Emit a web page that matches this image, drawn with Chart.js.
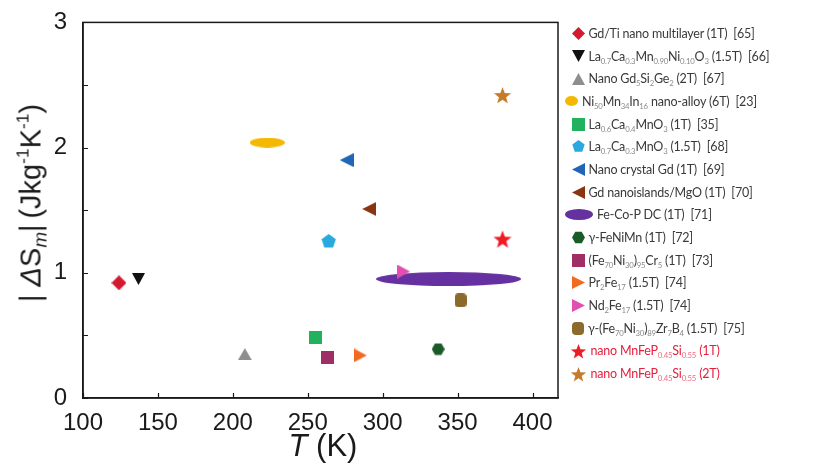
<!DOCTYPE html>
<html>
<head>
<meta charset="utf-8">
<script src="https://cdn.jsdelivr.net/npm/chart.js@4.4.1/dist/chart.umd.min.js"></script>
<style>
  html, body { margin: 0; padding: 0; background: #fff; }
  #wrap { position: relative; width: 820px; height: 473px; overflow: hidden; }
  #chart { position: absolute; left: 0; top: 0; }
  .axis-title { position: absolute; font-family: "Liberation Sans", Arial, sans-serif; color: #1a1a1a; white-space: nowrap; }
  #ytitle { left: 31px; top: 203px; font-size: 29px; transform: translate(-50%, -50%) rotate(-90deg); }
  #xtitle { left: 323px; top: 446px; font-size: 31px; transform: translate(-50%, -50%); }
  .axis-title sub { font-size: 0.65em; vertical-align: -0.3em; line-height: 0; }
  .axis-title sup { font-size: 0.6em; vertical-align: 0.7em; line-height: 0; }
  #legend { position: absolute; left: 563px; top: 22px; margin: 0; padding: 0; list-style: none;
    font-family: Lato, "Open Sans", sans-serif; font-size: 12.5px; color: #3a3a3a; letter-spacing: -0.2px; }
  #legend li { height: 22.7px; display: flex; align-items: center; white-space: nowrap; }
  #legend li canvas { flex: none; margin-right: 4px; }
  #legend sub { font-size: 0.62em; vertical-align: -0.45em; line-height: 0; color: #8a8a8a; }
  #legend li.red { color: #e5203f; }
  #legend li.red sub { color: #ee6b80; }
</style>
</head>
<body>
<div id="wrap">
  <canvas id="chart" width="820" height="473"></canvas>
  <div id="ytitle" class="axis-title">|&nbsp;<i>Δ</i>S<sub><i>m</i></sub>|&thinsp;(Jkg<sup>-1</sup>K<sup>-1</sup>)</div>
  <div id="xtitle" class="axis-title"><i>T</i> (K)</div>
  <ul id="legend"></ul>
</div>
<script>
// materials (legend order), with the field used
const materials = [
  'Gd/Ti nano multilayer (1T)&nbsp; [65]',
  'La<sub>0.7</sub>Ca<sub>0.3</sub>Mn<sub>0.90</sub>Ni<sub>0.10</sub>O<sub>3</sub> (1.5T)&nbsp; [66]',
  'Nano Gd<sub>5</sub>Si<sub>2</sub>Ge<sub>2</sub> (2T)&nbsp; [67]',
  'Ni<sub>50</sub>Mn<sub>34</sub>In<sub>16</sub> nano-alloy (6T)&nbsp; [23]',
  'La<sub>0.6</sub>Ca<sub>0.4</sub>MnO<sub>3</sub> (1T)&nbsp; [35]',
  'La<sub>0.7</sub>Ca<sub>0.3</sub>MnO<sub>3</sub> (1.5T)&nbsp; [68]',
  'Nano crystal Gd (1T)&nbsp; [69]',
  'Gd nanoislands/MgO (1T)&nbsp; [70]',
  'Fe-Co-P DC (1T)&nbsp; [71]',
  'γ-FeNiMn (1T)&nbsp; [72]',
  '(Fe<sub>70</sub>Ni<sub>30</sub>)<sub>95</sub>Cr<sub>5</sub> (1T)&nbsp; [73]',
  'Pr<sub>2</sub>Fe<sub>17</sub> (1.5T)&nbsp; [74]',
  'Nd<sub>2</sub>Fe<sub>17</sub> (1.5T)&nbsp; [74]',
  'γ-(Fe<sub>70</sub>Ni<sub>30</sub>)<sub>89</sub>Zr<sub>7</sub>B<sub>4</sub> (1.5T)&nbsp; [75]',
  'nano MnFeP<sub>0.45</sub>Si<sub>0.55</sub> (1T)',
  'nano MnFeP<sub>0.45</sub>Si<sub>0.55</sub> (2T)',
];

// Curie / transition temperature (K)
const temperatureK = [124, 137, 208, 223, 255, 264, 276, 291, 344, 337, 263, 285, 314, 352, 380, 380];

// |ΔSm| (J kg-1 K-1)
const deltaSm = [0.92, 0.95, 0.35, 2.04, 0.48, 1.25, 1.90, 1.51, 0.95, 0.39, 0.32, 0.34, 1.01, 0.78, 1.27, 2.42];

const xTicks = [100, 150, 200, 250, 300, 350, 400];
const yTicks = [0, 1, 2, 3];

// marker looks: shape, colour, width, height
const markerStyles = [
  ['diamond', '#d41a2e', 15, 15],
  ['triDown', '#111111', 13, 12],
  ['triUp', '#8e8e8e', 14, 12],
  ['ellipse', '#f5b800', 35, 10],
  ['square', '#22b15c', 13, 13],
  ['pentagon', '#2aa9e0', 15, 15],
  ['triLeft', '#1f67b6', 14, 14],
  ['triLeft', '#8a3512', 14, 14],
  ['ellipse', '#6530a0', 145, 14],
  ['hexagon', '#1a5b28', 13, 13],
  ['square', '#a02e66', 13, 13],
  ['triRight', '#f26a1f', 13, 14],
  ['triRight', '#e24fb0', 13, 14],
  ['roundrect', '#8c6a2c', 12, 14],
  ['star', '#ee1c25', 20, 19],
  ['star', '#c67a2c', 19, 18],
];
// the wide Fe-Co-P ellipse is drawn smaller in the legend
const legendSizes = { 8: [28, 11] };

function makeMarker(shape, color, w, h) {
  const c = document.createElement('canvas');
  c.width = w;
  c.height = h;
  const g = c.getContext('2d');
  g.fillStyle = color;
  g.beginPath();
  const cx = w / 2, cy = h / 2;
  const poly = (pts) => { pts.forEach(([x, y], i) => (i ? g.lineTo(x, y) : g.moveTo(x, y))); g.closePath(); };
  const regular = (n, r, rot) => {
    const pts = [];
    for (let i = 0; i < n; i++) {
      const a = rot + (i * 2 * Math.PI) / n;
      pts.push([cx + r * Math.cos(a), cy + r * Math.sin(a)]);
    }
    poly(pts);
  };
  switch (shape) {
    case 'diamond': poly([[cx, 0], [w, cy], [cx, h], [0, cy]]); break;
    case 'triUp': poly([[cx, 0], [w, h], [0, h]]); break;
    case 'triDown': poly([[0, 0], [w, 0], [cx, h]]); break;
    case 'triLeft': poly([[0, cy], [w, 0], [w, h]]); break;
    case 'triRight': poly([[0, 0], [w, cy], [0, h]]); break;
    case 'square': g.rect(0, 0, w, h); break;
    case 'pentagon': regular(5, w / 2, -Math.PI / 2); break;
    case 'hexagon': regular(6, w / 2, 0); break;
    case 'roundrect': g.roundRect(0, 0, w, h, 4); break;
    case 'ellipse': g.ellipse(cx, cy, w / 2, h / 2, 0, 0, Math.PI * 2); break;
    case 'star': {
      const pts = [];
      const R = Math.min(w, h) / 2, r = R * 0.42;
      for (let i = 0; i < 10; i++) {
        const a = -Math.PI / 2 + (i * Math.PI) / 5;
        const rr = i % 2 ? r : R;
        pts.push([cx + rr * Math.cos(a), cy + 1 + rr * Math.sin(a)]);
      }
      poly(pts);
      break;
    }
  }
  g.fill();
  return c;
}

const datasets = materials.map((name, i) => {
  const [shape, color, w, h] = markerStyles[i];
  return {
    label: name,
    data: [{ x: temperatureK[i], y: deltaSm[i] }],
    pointStyle: makeMarker(shape, color, w, h),
    pointRadius: 6,
    order: shape === 'ellipse' && w > 100 ? 1 : 0,
  };
});

// inward ticks and the closed frame
const frameTicks = {
  id: 'frameTicks',
  beforeDatasetsDraw(chart) {
    const { ctx, chartArea: a, scales } = chart;
    ctx.save();
    ctx.strokeStyle = '#1a1a1a';
    ctx.lineWidth = 1.2;
    ctx.beginPath();
    scales.y.ticks.forEach((t) => {
      const py = Math.round(scales.y.getPixelForValue(t.value)) + 0.5;
      ctx.moveTo(a.left, py);
      ctx.lineTo(a.left + 5, py);
    });
    scales.x.ticks.forEach((t) => {
      const px = Math.round(scales.x.getPixelForValue(t.value)) + 0.5;
      ctx.moveTo(px, a.bottom);
      ctx.lineTo(px, a.bottom - 5);
    });
    ctx.stroke();
    ctx.lineWidth = 1.5;
    ctx.strokeRect(a.left, a.top, a.right - a.left, a.bottom - a.top);
    ctx.restore();
  },
};

const tickFont = { family: '"Liberation Sans", Arial, sans-serif', size: 24 };

new Chart(document.getElementById('chart'), {
  type: 'scatter',
  data: { datasets },
  options: {
    responsive: false,
    animation: false,
    layout: { padding: { left: 0, top: 17, right: 262, bottom: 0 } },
    plugins: { legend: { display: false }, tooltip: { enabled: false } },
    scales: {
      x: {
        type: 'linear',
        min: 100,
        max: 417,
        afterFit: (s) => { s.height = 75; },
        afterBuildTicks: (s) => { s.ticks = xTicks.map((v) => ({ value: v })); },
        ticks: { font: tickFont, color: '#1a1a1a', padding: 3, maxRotation: 0 },
        grid: { display: false },
        border: { color: '#1a1a1a', width: 1.5 },
      },
      y: {
        min: 0,
        max: 3,
        afterFit: (s) => { s.width = 83; },
        ticks: {
          stepSize: 0.5,
          font: tickFont,
          color: '#1a1a1a',
          padding: 8,
          callback: (v) => (yTicks.includes(v) ? v : ''),
        },
        grid: { display: false },
        border: { color: '#1a1a1a', width: 1.5 },
      },
    },
  },
  plugins: [frameTicks],
});

// html legend (formulas need sub-scripts)
const legendEl = document.getElementById('legend');
materials.forEach((name, i) => {
  const [shape, color, w0, h0] = markerStyles[i];
  const [w, h] = legendSizes[i] || (shape === 'star' ? [17, 16] : [Math.min(w0, 13), Math.min(h0, 13)]);
  const li = document.createElement('li');
  if (i >= 14) li.className = 'red';
  const mk = makeMarker(shape, color, w, h);
  mk.style.marginLeft = shape === 'ellipse' ? '2px' : (15 - w / 2) + 'px';
  li.appendChild(mk);
  const span = document.createElement('span');
  span.innerHTML = name;
  li.appendChild(span);
  legendEl.appendChild(li);
});
</script>
</body>
</html>
